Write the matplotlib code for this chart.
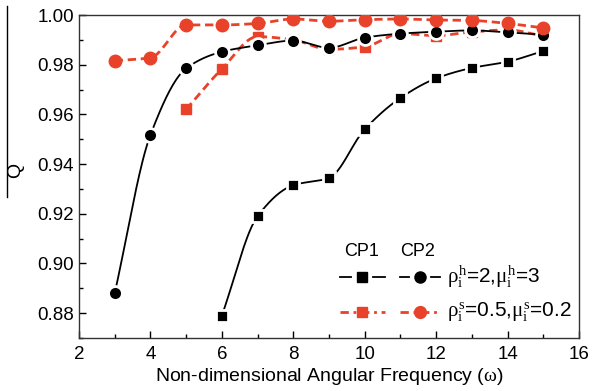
import numpy as np
import matplotlib
matplotlib.use("Agg")
import matplotlib.pyplot as plt
from matplotlib.lines import Line2D
from matplotlib.ticker import MultipleLocator, FormatStrFormatter

plt.rcParams['font.family'] = ['Liberation Sans', 'DejaVu Sans']
plt.rcParams['mathtext.fontset'] = 'custom'
plt.rcParams['mathtext.rm'] = 'Liberation Serif'
plt.rcParams['mathtext.it'] = 'Liberation Serif'
plt.rcParams['mathtext.bf'] = 'Liberation Serif:bold'

# ---- data ----
x_cp1 = [6, 7, 8, 9, 10, 11, 12, 13, 14, 15]
q_cp1_h = [0.879, 0.919, 0.9315, 0.9344, 0.954, 0.9666, 0.9745, 0.9787, 0.9812, 0.9855]
x_cp1_s = [5, 6, 7, 8, 9, 10, 11, 12, 13, 14, 15]
q_cp1_s = [0.962, 0.9783, 0.9913, 0.990, 0.9862, 0.9872, 0.9925, 0.9917, 0.9932, 0.9940, 0.9915]
x_cp2 = [3, 4, 5, 6, 7, 8, 9, 10, 11, 12, 13, 14, 15]
q_cp2_h = [0.888, 0.9517, 0.9785, 0.9852, 0.9878, 0.9897, 0.9868, 0.9909, 0.9925, 0.9933, 0.9938, 0.9930, 0.9921]
q_cp2_s = [0.9816, 0.9828, 0.9960, 0.9960, 0.9966, 0.9984, 0.9975, 0.9981, 0.9984, 0.9980, 0.9978, 0.9966, 0.9948]

col_headers = ['CP1', 'CP2']
label_h = r'$\rho_\mathrm{i}^\mathrm{h}$=2,$\mu_\mathrm{i}^\mathrm{h}$=3'
label_s = r'$\rho_\mathrm{i}^\mathrm{s}$=0.5,$\mu_\mathrm{i}^\mathrm{s}$=0.2'
RED = '#E8432A'


def pchip(x, y, n=400):
    x = np.asarray(x, float); y = np.asarray(y, float)
    h = np.diff(x); d = np.diff(y) / h
    m = np.zeros_like(y)
    for k in range(1, len(x) - 1):
        if d[k - 1] * d[k] > 0:
            w1 = 2 * h[k] + h[k - 1]; w2 = h[k] + 2 * h[k - 1]
            m[k] = (w1 + w2) / (w1 / d[k - 1] + w2 / d[k])
    m[0] = d[0]; m[-1] = d[-1]
    xs = np.linspace(x[0], x[-1], n)
    i = np.clip(np.searchsorted(x, xs) - 1, 0, len(x) - 2)
    t = (xs - x[i]) / h[i]
    h00 = 2 * t**3 - 3 * t**2 + 1; h10 = t**3 - 2 * t**2 + t
    h01 = -2 * t**3 + 3 * t**2; h11 = t**3 - t**2
    ys = h00 * y[i] + h10 * h[i] * m[i] + h01 * y[i + 1] + h11 * h[i] * m[i + 1]
    return xs, ys


fig = plt.figure(figsize=(5.92, 3.91), dpi=100)
ax = fig.add_axes([0.1334, 0.1355, 0.8446, 0.8261])

red_dash = (0, (3.0, 1.7))

# black squares CP1 (h)
xs, ys = pchip(x_cp1, q_cp1_h)
ax.plot(xs, ys, color='black', lw=1.3, zorder=2)
ax.plot(x_cp1, q_cp1_h, ls='none', marker='s', ms=8.5, mfc='black', mec='white', mew=2, zorder=3)
# red squares CP1 (s)
xs, ys = pchip(x_cp1_s, q_cp1_s)
ax.plot(xs, ys, color=RED, lw=2.0, ls=red_dash, zorder=4)
ax.plot(x_cp1_s, q_cp1_s, ls='none', marker='s', ms=6.8, mfc=RED, mec=RED, zorder=5)
# black circles CP2 (h)
xs, ys = pchip(x_cp2, q_cp2_h)
ax.plot(xs, ys, color='black', lw=1.3, zorder=6)
ax.plot(x_cp2, q_cp2_h, ls='none', marker='o', ms=10, mfc='black', mec='white', mew=2, zorder=7)
# red circles CP2 (s)
xs, ys = pchip(x_cp2, q_cp2_s)
ax.plot(xs, ys, color=RED, lw=2.0, ls=red_dash, zorder=8)
ax.plot(x_cp2, q_cp2_s, ls='none', marker='o', ms=9, mfc=RED, mec=RED, zorder=9)

ax.set_xlim(2, 16)
ax.set_ylim(0.870, 1.00)
ax.xaxis.set_major_locator(MultipleLocator(2))
ax.xaxis.set_minor_locator(MultipleLocator(1))
ax.yaxis.set_major_locator(MultipleLocator(0.02))
ax.yaxis.set_minor_locator(MultipleLocator(0.01))
ax.yaxis.set_major_formatter(FormatStrFormatter('%.2f'))
ax.tick_params(which='both', direction='in', top=False, right=False, labelsize=13.5)
ax.tick_params(which='major', length=5, width=1)
ax.tick_params(which='minor', length=3, width=1)
ax.tick_params(axis='x', pad=6)
for s in ax.spines.values():
    s.set_linewidth(1.0)
    s.set_color('#333333')

ax.set_xlabel('Non-dimensional Angular Frequency ($\\omega$)', fontsize=14, labelpad=2)
fig.text(0.026, 0.565, 'Q', rotation=90, fontsize=14, ha='center', va='center')
fig.add_artist(Line2D([0.012, 0.012], [0.496, 0.985], color='black', lw=1.0, transform=fig.transFigure))

# manual legend (axes coordinates)
T = ax.transAxes
ax.text(0.566, 0.269, col_headers[0], transform=T, ha='center', va='center', fontsize=13)
ax.text(0.678, 0.269, col_headers[1], transform=T, ha='center', va='center', fontsize=13)


def leg_handle(x0, x1, y, marker, ms, color, dashed):
    xm = (x0 + x1) / 2
    if dashed:
        ax.add_line(Line2D([x0, x1], [y, y], transform=T, color=color, lw=2.0,
                           ls=(0, (3.0, 1.7, 1.0, 1.7))))
    else:
        g = 0.022
        ax.add_line(Line2D([x0, xm - g], [y, y], transform=T, color=color, lw=1.3))
        ax.add_line(Line2D([xm + g, x1], [y, y], transform=T, color=color, lw=1.3))
    ax.add_line(Line2D([xm], [y], transform=T, ls='none', marker=marker, ms=ms,
                       mfc=color, mec=color))


y1, y2 = 0.189, 0.080
leg_handle(0.522, 0.612, y1, 's', 7, 'black', False)
leg_handle(0.642, 0.722, y1, 'o', 8, 'black', False)
leg_handle(0.522, 0.612, y2, 's', 7.5, RED, True)
leg_handle(0.642, 0.722, y2, 'o', 8.5, RED, True)
ax.text(0.736, y1, label_h, transform=T, ha='left', va='center', fontsize=15)
ax.text(0.736, y2, label_s, transform=T, ha='left', va='center', fontsize=15)

fig.savefig('out.png', dpi=100)
